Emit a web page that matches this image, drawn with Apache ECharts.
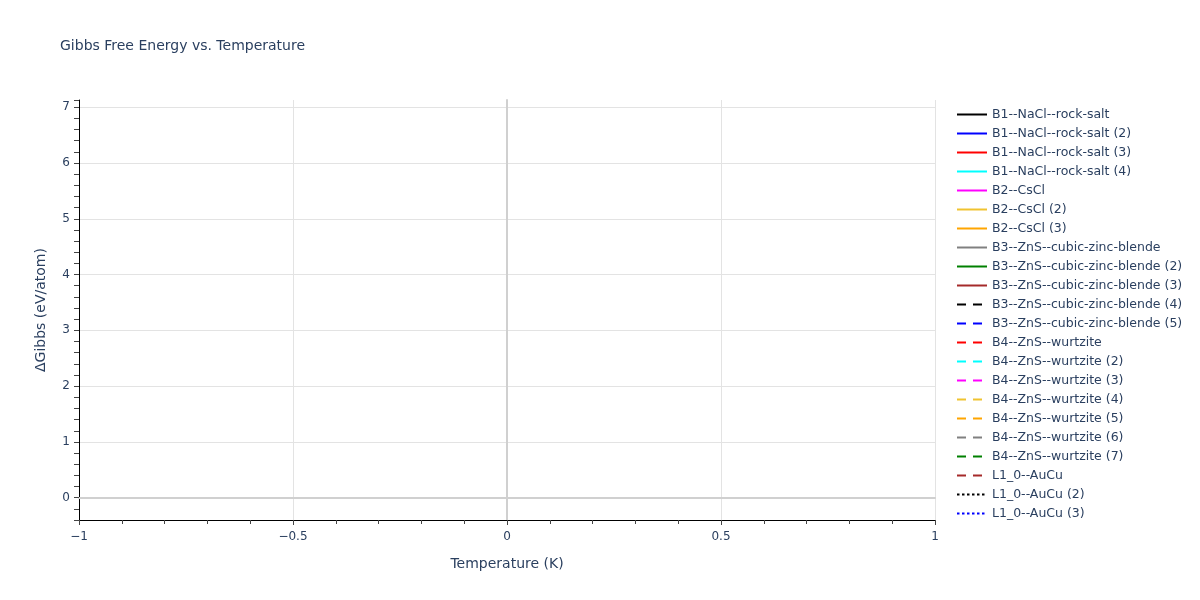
<!DOCTYPE html>
<html>
<head>
<meta charset="utf-8">
<title>Gibbs Free Energy vs. Temperature</title>
<script src="https://cdn.jsdelivr.net/npm/echarts@6/dist/echarts.min.js"></script>
<style>
  html, body { margin: 0; padding: 0; background: #fff; }
  #chart { width: 1200px; height: 600px; }
</style>
</head>
<body>
<div id="chart"></div>
<script>
// series names, colours and dash styles (all traces are empty in the source)
var seriesNames = [
  'B1--NaCl--rock-salt', 'B1--NaCl--rock-salt (2)', 'B1--NaCl--rock-salt (3)', 'B1--NaCl--rock-salt (4)',
  'B2--CsCl', 'B2--CsCl (2)', 'B2--CsCl (3)',
  'B3--ZnS--cubic-zinc-blende', 'B3--ZnS--cubic-zinc-blende (2)', 'B3--ZnS--cubic-zinc-blende (3)',
  'B3--ZnS--cubic-zinc-blende (4)', 'B3--ZnS--cubic-zinc-blende (5)',
  'B4--ZnS--wurtzite', 'B4--ZnS--wurtzite (2)', 'B4--ZnS--wurtzite (3)', 'B4--ZnS--wurtzite (4)',
  'B4--ZnS--wurtzite (5)', 'B4--ZnS--wurtzite (6)', 'B4--ZnS--wurtzite (7)',
  'L1_0--AuCu', 'L1_0--AuCu (2)', 'L1_0--AuCu (3)'
];
var seriesColors = [
  'black', 'blue', 'red', 'cyan', 'magenta', '#f0c330', 'orange', 'gray', 'green', 'brown',
  'black', 'blue', 'red', 'cyan', 'magenta', '#f0c330', 'orange', 'gray', 'green', 'brown',
  'black', 'blue'
];
var seriesDash = [
  'solid', 'solid', 'solid', 'solid', 'solid', 'solid', 'solid', 'solid', 'solid', 'solid',
  'dash', 'dash', 'dash', 'dash', 'dash', 'dash', 'dash', 'dash', 'dash', 'dash',
  'dot', 'dot'
];
var seriesData = seriesNames.map(function() { return []; });

var xRange = [-1, 1];
var yRange = [-0.4, 7.13];

var textColor = '#2a3f5f';
var fontFamily = 'DejaVu Sans, Verdana, sans-serif';

function dashType(d) {
  if (d === 'dash') return [9, 7];
  if (d === 'dot') return [2.5, 2.5];
  return 'solid';
}

var chart = echarts.init(document.getElementById('chart'));

var series = seriesNames.map(function(name, i) {
  return {
    name: name,
    type: 'line',
    xAxisIndex: 0,
    yAxisIndex: 0,
    symbol: 'none',
    showSymbol: false,
    data: seriesData[i],
    itemStyle: { color: seriesColors[i] },
    lineStyle: { color: seriesColors[i], width: 2, type: dashType(seriesDash[i]) }
  };
});

var option = {
  animation: false,
  backgroundColor: '#fff',
  textStyle: { fontFamily: fontFamily },
  title: {
    text: 'Gibbs Free Energy vs. Temperature',
    left: 55,
    top: 34,
    textStyle: { color: textColor, fontSize: 14, fontWeight: 'normal', fontFamily: fontFamily }
  },
  legend: {
    orient: 'vertical',
    left: 951,
    top: 103,
    itemWidth: 30,
    itemHeight: 14,
    itemGap: 6,
    data: seriesNames,
    itemStyle: { opacity: 0 },
    textStyle: { color: textColor, fontSize: 12.5, fontFamily: fontFamily }
  },
  grid: { left: 79, right: 265, top: 100, bottom: 80 },
  xAxis: [{
    type: 'value',
    position: 'bottom',
    min: xRange[0],
    max: xRange[1],
    interval: 0.5,
    name: 'Temperature (K)',
    nameLocation: 'middle',
    nameGap: 37,
    nameTextStyle: { color: textColor, fontSize: 14 },
    axisLine: { onZero: false, lineStyle: { color: '#000', width: 1 } },
    axisTick: { show: true, length: 5, lineStyle: { color: '#444' } },
    minorTick: { show: true, splitNumber: 5, length: 4, lineStyle: { color: '#444' } },
    axisLabel: {
      color: textColor, fontSize: 12, margin: 11,
      formatter: function(v) { return String(v).replace('-', '\u2212'); }
    },
    splitLine: { show: true, lineStyle: { color: '#e3e3e3', width: 1 } }
  }, {
    type: 'value',
    position: 'bottom',
    min: xRange[0],
    max: xRange[1],
    axisLine: { show: true, onZero: true, lineStyle: { color: '#d0d0d0', width: 2 } },
    axisTick: { show: false },
    axisLabel: { show: false },
    splitLine: { show: false }
  }],
  yAxis: [{
    type: 'value',
    position: 'left',
    min: yRange[0],
    max: yRange[1],
    splitNumber: 8,
    name: '\u0394Gibbs (eV/atom)',
    nameLocation: 'middle',
    nameGap: 31,
    nameTextStyle: { color: textColor, fontSize: 14 },
    axisLine: { show: true, onZero: false, lineStyle: { color: '#000', width: 1 } },
    axisTick: { show: false },
    axisLabel: {
      color: textColor, fontSize: 12, margin: 9,
      formatter: function(v) { return Math.abs(v - Math.round(v)) < 1e-6 ? String(Math.round(v)) : ''; }
    },
    splitLine: { show: true, showMinLine: false, showMaxLine: false, lineStyle: { color: '#e3e3e3', width: 1 } }
  }, {
    type: 'value',
    position: 'left',
    min: yRange[0],
    max: yRange[1],
    axisLine: { show: true, onZero: true, onZeroAxisIndex: 0, lineStyle: { color: '#d0d0d0', width: 2 } },
    axisTick: { show: false },
    axisLabel: { show: false },
    splitLine: { show: false }
  }, {
    type: 'value',
    position: 'left',
    min: yRange[0],
    max: yRange[1],
    interval: 0.2,
    axisLine: { show: false, onZero: false },
    axisTick: { show: true, length: 5, lineStyle: { color: '#444' } },
    axisLabel: { show: false },
    splitLine: { show: false }
  }],
  series: series
};

chart.setOption(option);
</script>
</body>
</html>
